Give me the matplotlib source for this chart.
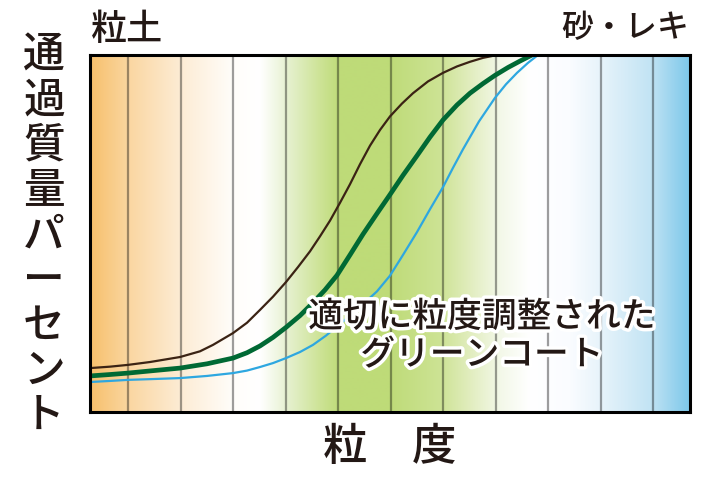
"""
粒度分布のイメージ図 (通過質量パーセント vs 粒度)
"""
import numpy as np
import matplotlib.pyplot as plt
import matplotlib.patheffects as pe

plt.rcParams['font.family'] = ['Noto Sans CJK JP', 'DejaVu Sans']

# grain size axis runs 0..600 (arbitrary units, left = fine, right = coarse)
grid_x = [38, 90.5, 143, 195.5, 248, 300.5, 353, 405.5, 458, 510.5, 563]

# passing mass percent
brown_x = [0, 20, 38, 60, 90, 110, 123, 143, 157, 170, 183, 196, 208, 220, 230, 240,
           250, 260, 270, 280, 290, 300, 312, 323, 338, 353, 367, 380, 393, 407]
brown_y = [12.3, 12.7, 13.2, 14.0, 15.4, 17.0, 18.8, 22.1, 25.0, 28.6, 32.3, 36.4, 40.6, 45.0,
           49.2, 53.6, 58.6, 63.8, 69.4, 74.6, 79.0, 82.8, 86.4, 89.3, 92.6, 95.0, 96.8, 98.1,
           99.2, 100]

green_x = [0, 20, 38, 60, 90, 117, 143, 157, 170, 183, 196, 210, 223, 235, 247, 260, 273,
           287, 300, 313, 327, 340, 353, 367, 380, 393, 405, 418, 430, 442]
green_y = [10.1, 10.5, 10.9, 11.5, 12.3, 13.5, 15.1, 16.6, 18.5, 20.9, 23.7, 27.0, 30.6, 34.2,
           38.3, 44.0, 49.8, 55.6, 60.9, 66.3, 71.8, 77.0, 81.8, 86.0, 89.3, 92.0, 94.3, 96.5,
           98.3, 100]

blue_x = [0, 20, 38, 60, 90, 117, 143, 157, 170, 183, 196, 210, 223, 236, 248, 260, 273,
          287, 300, 313, 327, 340, 353, 363, 373, 389, 405, 416, 427, 438, 448]
blue_y = [8.4, 8.7, 9.0, 9.2, 9.5, 10.1, 10.9, 11.6, 12.6, 13.7, 15.1, 16.8, 18.8, 21.4, 24.2,
          27.0, 30.2, 33.8, 38.2, 44.0, 50.4, 56.8, 63.0, 68.4, 73.6, 81.4, 88.0, 91.8, 95.0,
          97.8, 100]

# background colour stops (position, rgb)
bg_pos = [0, 38, 90, 143, 170, 195, 230, 250, 300, 350, 380, 410, 440, 480, 510, 560, 600]
bg_rgb = [(247, 192, 108), (250, 214, 160), (253, 236, 212), (255, 253, 250), (255, 255, 255),
          (232, 242, 212), (205, 227, 150), (190, 219, 120), (190, 219, 120), (205, 227, 148),
          (225, 237, 190), (243, 248, 232), (255, 255, 255), (250, 252, 255), (232, 244, 251),
          (195, 228, 244), (125, 200, 234)]

fig = plt.figure(figsize=(7.2, 4.8), dpi=100)
ax = fig.add_axes([90 / 720, 68 / 480, 600 / 720, 357 / 480])

# gradient background
xs = np.linspace(0, 600, 601)
rgb = np.array(bg_rgb, dtype=float) / 255
img = np.stack([np.interp(xs, bg_pos, rgb[:, c]) for c in range(3)], axis=-1)[None, :, :]
ax.imshow(img, extent=[0, 600, 0, 100], aspect='auto', zorder=0)

for gx in grid_x:
    ax.axvline(gx, color='black', alpha=0.38, lw=1.6, zorder=1)

ax.plot(brown_x, brown_y, color='#3b2314', lw=1.6, zorder=3, solid_joinstyle='round')
ax.plot(green_x, green_y, color='#006934', lw=3.4, zorder=4, solid_joinstyle='round')
ax.plot(blue_x, blue_y, color='#2ea7e0', lw=1.6, zorder=3, solid_joinstyle='round')

ax.set_xlim(0, 600)
ax.set_ylim(0, 100)
ax.set_xticks([])
ax.set_yticks([])
for s in ax.spines.values():
    s.set_linewidth(2.2)
    s.set_color('black')
    s.set_zorder(10)


def px(x, y):
    return x / 720, 1 - y / 480


txt = '#231815'
fig.text(*px(91, 30), '粒土', fontsize=26, ha='left', va='center', color=txt, weight='medium')
fig.text(*px(689, 28), '砂・レキ', fontsize=23, ha='right', va='center', color=txt, weight='medium')
fig.text(*px(390, 448), '粒\u3000度', fontsize=32, ha='center', va='center', color=txt, weight='medium')

for i, ch in enumerate('通過質量パーセント'):
    fig.text(*px(44, 55 + 45 * i), ch, fontsize=30, ha='center', va='center', color=txt, weight='medium')

outline = [pe.withStroke(linewidth=5, foreground='white')]
fig.text(*px(482, 317), '適切に粒度調整された', fontsize=25, ha='center', va='center',
         color=txt, weight='medium', path_effects=outline, zorder=20)
fig.text(*px(482, 355), 'グリーンコート', fontsize=25, ha='center', va='center',
         color=txt, weight='medium', path_effects=outline, zorder=20)

plt.savefig('out.png', dpi=100)
